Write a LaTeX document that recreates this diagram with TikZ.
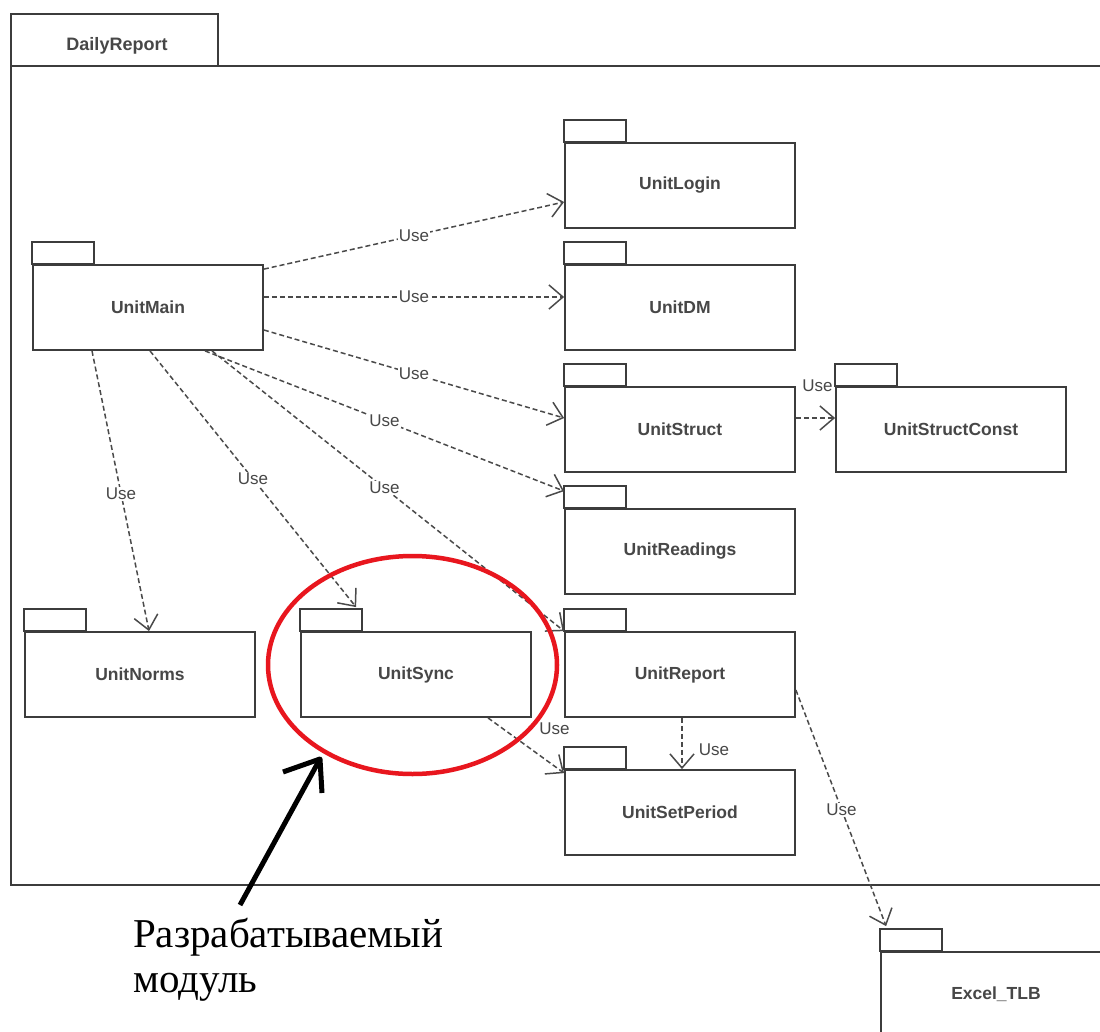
\documentclass[tikz,border=0pt]{standalone}
\usepackage{fontspec}
\newfontfamily\umlfont{Liberation Sans}
\newfontfamily\notefont{Liberation Serif}
\usetikzlibrary{arrows.meta,calc}
\definecolor{inkgray}{HTML}{3C3C3C}
\definecolor{dashgray}{HTML}{4A4A4A}
\definecolor{markred}{HTML}{E8161E}

\begin{document}
\begin{tikzpicture}[x=1pt,y=-1pt,
  pkg/.style={draw=inkgray, line width=1.8pt, fill=white,
    minimum width=230pt, minimum height=85pt, inner sep=0pt,
    text=black!72, font=\umlfont\bfseries\fontsize{17.5}{21}\selectfont},
  pkgtab/.style={draw=inkgray, line width=1.8pt},
  use/.style={draw=dashgray, line width=1.5pt, dash pattern=on 5pt off 3pt,
    -{Straight Barb[length=14pt,width=24pt]}},
  uselbl/.style={fill=white, inner sep=1pt, text=black!72,
    font=\umlfont\fontsize{17}{20}\selectfont},
]
\useasboundingbox (0,0) rectangle (1100,1032);
\clip (0,0) rectangle (1100,1032);
\fill[white] (0,0) rectangle (1100,1032);

% enclosing package DailyReport
\draw[pkgtab] (11,66) rectangle (218,14);
\node[inner sep=0pt, text=black!72, font=\umlfont\bfseries\fontsize{18}{21}\selectfont]
  (dailyname) at (117,46) {DailyReport};
\draw[pkgtab] (1110,66) -- (11,66) -- (11,885) -- (1110,885);

% packages
\node[pkg] (main)     at (148,307.5)  {UnitMain};
\node[pkg] (login)    at (680,185.5)  {UnitLogin};
\node[pkg] (dm)       at (680,307.5)  {UnitDM};
\node[pkg] (struct)   at (680,429.5)  {UnitStruct};
\node[pkg] (sconst)   at (951,429.5)  {UnitStructConst};
\node[pkg] (readings) at (680,551.5)  {UnitReadings};
\node[pkg] (norms)    at (140,674.5)  {UnitNorms};
\node[pkg] (sync)     at (416,674.5)  {UnitSync};
\node[pkg] (report)   at (680,674.5)  {UnitReport};
\node[pkg] (setp)     at (680,812.5)  {UnitSetPeriod};
\node[pkg] (excel)    at (996,994.5)  {Excel\_TLB};

\foreach \n in {main,login,dm,struct,sconst,readings,norms,sync,report,setp,excel}
  \draw[pkgtab] (\n.north west) rectangle ++(62pt,22pt);

% dependencies
\draw[use] ([yshift=-5pt]main.north east) -- node[uselbl]{Use} ([yshift=-16.5pt]login.west);
\draw[use] ([yshift=10.5pt]main.east) -- node[uselbl]{Use} ([yshift=10.5pt]dm.west);
\draw[use] ([yshift=-22.5pt]main.east) -- node[uselbl]{Use} ([yshift=11.5pt]struct.west);
\draw[use] ([xshift=57pt]main.south) -- node[uselbl]{Use} ([yshift=17pt]readings.north west);
\draw[use] ([xshift=64pt]main.south) -- node[uselbl, pos=0.49]{Use} (report.north west);
\draw[use] ([xshift=2pt]main.south) -- node[uselbl]{Use} ([xshift=56pt,yshift=24pt]sync.north west);
\draw[use] ([xshift=-56pt]main.south) -- node[uselbl, pos=0.51]{Use} ([xshift=9pt]norms.north);
\draw[use] ([yshift=11.5pt]struct.east) -- node[uselbl, xshift=2pt, yshift=32pt]{Use} ([yshift=11.5pt]sconst.west);
\draw[use] ([xshift=72pt]sync.south) -- node[uselbl, xshift=28.5pt, yshift=17pt]{Use} ([yshift=-4pt]setp.north west);
\draw[use] ([xshift=2pt]report.south) -- node[uselbl, anchor=west, xshift=15pt, yshift=-6pt]{Use} ([xshift=2pt]setp.north);
\draw[use] ([yshift=-15.5pt]report.east) -- node[uselbl, pos=0.506]{Use} ([xshift=6pt,yshift=25pt]excel.north west);

% highlight of the module under development
\draw[markred, line width=4.5pt] (412.5,665) ellipse [x radius=144.5pt, y radius=109pt];

\coordinate (tail) at (240,905);
\coordinate (tip) at (320,759);
\coordinate (barbL) at (283,772);
\coordinate (barbR) at (322,793);
\draw[black, line width=5pt] (tail) -- (tip);
\draw[black, line width=5pt, line join=round] (barbL) -- (tip) -- (barbR);

\node[anchor=north west, inner sep=0pt, align=left,
  font=\notefont\fontsize{41}{45}\selectfont] (note) at (133,918)
  {Разрабатываемый\\модуль};
\end{tikzpicture}
\end{document}
